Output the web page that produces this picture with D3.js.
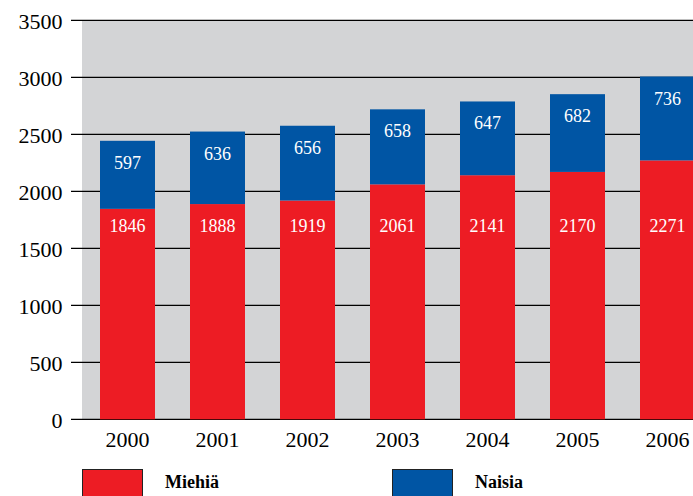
<!DOCTYPE html>
<html>
<head>
<meta charset="utf-8">
<script src="https://cdn.jsdelivr.net/npm/d3@7"></script>
<style>
html,body{margin:0;padding:0;background:#fff;}
svg{display:block;}
</style>
</head>
<body>
<svg id="chart" width="693" height="496"></svg>
<script>
const years = ["2000","2001","2002","2003","2004","2005","2006"];
const miehia = [1846,1888,1919,2061,2141,2170,2271];
const naisia = [597,636,656,658,647,682,736];
const yTicks = [0,500,1000,1500,2000,2500,3000,3500];
const seriesNames = ["Miehiä","Naisia"];
const colors = ["#ED1C24","#0055A4"];

const svg = d3.select("#chart");
const W = 693;
const plotLeft = 82, plotTop = 20.3, plotBottom = 419.3;

const y = d3.scaleLinear().domain([0,3500]).range([plotBottom, plotTop]);
const x = d3.scaleBand().domain(years).range([82, 713])
  .paddingInner(35/90).paddingOuter(0.2);

// background
svg.append("rect").attr("x", plotLeft).attr("y", y(3500))
  .attr("width", W - plotLeft).attr("height", y(0) - y(3500))
  .attr("fill", "#D3D4D6");

// gridlines
svg.append("g").selectAll("line").data(yTicks).join("line")
  .attr("x1", 71).attr("x2", W)
  .attr("y1", d => y(d)).attr("y2", d => y(d))
  .attr("stroke", "#000").attr("stroke-width", 1.3);

const lblFont = "Liberation Serif, Times New Roman, serif";

// y labels
svg.append("g").selectAll("text").data(yTicks).join("text")
  .attr("x", 62.5).attr("y", d => y(d) + 9)
  .attr("text-anchor", "end")
  .attr("font-family", lblFont)
  .attr("font-size", 22).attr("fill", "#000")
  .text(d => d);

// bars
const g = svg.append("g");
g.selectAll("rect.m").data(years).join("rect").attr("class","m")
  .attr("x", d => x(d)).attr("width", x.bandwidth())
  .attr("y", (d,i) => y(miehia[i])).attr("height", (d,i) => y(0) - y(miehia[i]))
  .attr("fill", colors[0]);
g.selectAll("rect.n").data(years).join("rect").attr("class","n")
  .attr("x", d => x(d)).attr("width", x.bandwidth())
  .attr("y", (d,i) => y(miehia[i] + naisia[i]))
  .attr("height", (d,i) => y(miehia[i]) - y(miehia[i] + naisia[i]))
  .attr("fill", colors[1]);

// value labels
g.selectAll("text.m").data(years).join("text").attr("class","m")
  .attr("x", d => x(d) + x.bandwidth()/2)
  .attr("y", y(1645))
  .attr("text-anchor","middle").attr("font-family", lblFont)
  .attr("font-size", 18).attr("fill","#fff")
  .text((d,i) => miehia[i]);
g.selectAll("text.n").data(years).join("text").attr("class","n")
  .attr("x", d => x(d) + x.bandwidth()/2)
  .attr("y", (d,i) => y(miehia[i] + naisia[i]) + 28)
  .attr("text-anchor","middle").attr("font-family", lblFont)
  .attr("font-size", 18).attr("fill","#fff")
  .text((d,i) => naisia[i]);

// x labels
svg.append("g").selectAll("text").data(years).join("text")
  .attr("x", d => x(d) + x.bandwidth()/2).attr("y", 447)
  .attr("text-anchor","middle").attr("font-family", lblFont)
  .attr("font-size", 22).attr("fill","#000")
  .text(d => d);

// legend
const legX = [82, 392];
const leg = svg.append("g");
seriesNames.forEach((name, i) => {
  leg.append("rect").attr("x", legX[i] + 0.5).attr("y", 469.5)
    .attr("width", 60).attr("height", 30)
    .attr("fill", colors[i]).attr("stroke", "#222").attr("stroke-width", 1);
  leg.append("text").attr("x", legX[i] + 83).attr("y", 488)
    .attr("font-family", lblFont).attr("font-weight","bold")
    .attr("font-size", 18).attr("fill","#000")
    .text(name);
});
</script>
</body>
</html>
